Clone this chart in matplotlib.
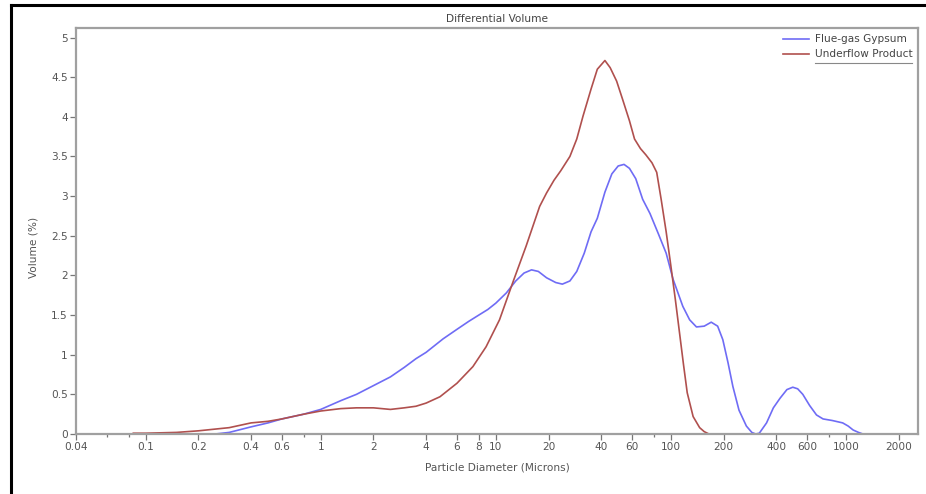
import matplotlib
matplotlib.use("Agg")
import matplotlib.pyplot as plt
from matplotlib.lines import Line2D
from matplotlib.ticker import FixedLocator, FixedFormatter, NullFormatter

plt.rcParams['font.family'] = ['DejaVu Sans']

# Particle size distribution (differential volume, %)
gypsum_d = [0.21, 0.25, 0.3, 0.4, 0.5, 0.6, 0.8, 1.0, 1.3, 1.6, 2.0, 2.5, 3.0,
            3.5, 4.0, 5.0, 6.0, 7.0, 8.0, 9.0, 10, 11.5, 13, 14.5, 16, 17.5,
            19.5, 22, 24, 26.5, 29, 32, 35, 38, 42, 46, 50, 54, 58, 63, 69,
            76, 85, 94, 103, 117, 128, 140, 155, 170, 185, 198, 212, 226,
            245, 270, 290, 305, 320, 352, 385, 420, 460, 497, 530, 567, 620,
            679, 740, 836, 958, 1030, 1100, 1180, 1250]
gypsum_v = [0.0, 0.0, 0.02, 0.09, 0.14, 0.19, 0.25, 0.31, 0.42, 0.5, 0.61,
            0.72, 0.84, 0.95, 1.03, 1.2, 1.32, 1.42, 1.5, 1.57, 1.65, 1.78,
            1.93, 2.03, 2.07, 2.05, 1.97, 1.91, 1.89, 1.93, 2.05, 2.28, 2.55,
            2.72, 3.05, 3.28, 3.38, 3.40, 3.35, 3.22, 2.96, 2.78, 2.52, 2.28,
            1.95, 1.61, 1.44, 1.35, 1.36, 1.41, 1.36, 1.19, 0.9, 0.6, 0.3,
            0.1, 0.02, 0.0, 0.01, 0.14, 0.33, 0.45, 0.56, 0.59, 0.57, 0.5,
            0.36, 0.24, 0.19, 0.17, 0.14, 0.1, 0.05, 0.02, 0.0]

underflow_d = [0.085, 0.1, 0.15, 0.2, 0.3, 0.4, 0.5, 0.6, 0.8, 1.0, 1.3, 1.6,
               2.0, 2.5, 3.0, 3.5, 4.0, 4.8, 6.0, 7.4, 8.8, 10.5, 12.5, 14.9,
               17.8, 19.5, 21.5, 23.5, 26.5, 29, 31.5, 35, 38, 42, 45, 49, 53,
               58, 62, 67, 72, 78, 83, 88, 94, 100, 106, 112, 118, 124, 134,
               146, 155, 165]
underflow_v = [0.01, 0.01, 0.02, 0.04, 0.08, 0.14, 0.16, 0.19, 0.25, 0.29,
               0.32, 0.33, 0.33, 0.31, 0.33, 0.35, 0.39, 0.47, 0.64, 0.85,
               1.1, 1.44, 1.91, 2.37, 2.87, 3.04, 3.2, 3.32, 3.5, 3.72, 4.01,
               4.35, 4.6, 4.71, 4.62, 4.45, 4.22, 3.95, 3.72, 3.6, 3.52, 3.42,
               3.3, 2.96, 2.55, 2.12, 1.7, 1.28, 0.88, 0.52, 0.22, 0.08, 0.03,
               0.0]

series_names = ["Flue-gas Gypsum", "Underflow Product"]
series_colors = ["#6f6cf5", "#b0504e"]

x_major = [0.04, 0.1, 0.2, 0.4, 0.6, 1, 2, 4, 6, 8, 10, 20, 40, 60, 100, 200,
           400, 600, 1000, 2000]
x_major_labels = ["0.04", "0.1", "0.2", "0.4", "0.6", "1", "2", "4", "6", "8",
                  "10", "20", "40", "60", "100", "200", "400", "600", "1000",
                  "2000"]
x_minor = [0.06, 0.08, 0.8, 80, 800]
y_ticks = [0, 0.5, 1, 1.5, 2, 2.5, 3, 3.5, 4, 4.5, 5]
y_labels = ["0", "0.5", "1", "1.5", "2", "2.5", "3", "3.5", "4", "4.5", "5"]

W, H = 926, 494
fig = plt.figure(figsize=(W / 100, H / 100), dpi=100)
ax = fig.add_axes([76 / W, (H - 434) / H, (918 - 76) / W, (434 - 28) / H])

ax.plot(gypsum_d, gypsum_v, color=series_colors[0], lw=1.2, label=series_names[0])
ax.plot(underflow_d, underflow_v, color=series_colors[1], lw=1.2, label=series_names[1])

ax.set_xscale('log')
ax.set_xlim(0.04, 2580)
ax.set_ylim(0, 5.12)

ax.xaxis.set_major_locator(FixedLocator(x_major))
ax.xaxis.set_major_formatter(FixedFormatter(x_major_labels))
ax.xaxis.set_minor_locator(FixedLocator(x_minor))
ax.xaxis.set_minor_formatter(NullFormatter())
ax.yaxis.set_major_locator(FixedLocator(y_ticks))
ax.yaxis.set_major_formatter(FixedFormatter(y_labels))

tick_col = "#555555"
fs = 7.6
ax.tick_params(axis='both', which='major', direction='out', length=4, width=0.9,
               color="#777777", labelsize=fs, labelcolor=tick_col, pad=2)
ax.tick_params(axis='x', which='minor', direction='out', length=2, width=0.9,
               color="#777777")

for s in ax.spines.values():
    s.set_color("#a0a0a0")
    s.set_linewidth(1.6)

ax.set_title("Differential Volume", fontsize=fs, color="#444444", pad=4)
ax.set_xlabel("Particle Diameter (Microns)", fontsize=fs, color=tick_col, labelpad=7)
ax.set_ylabel("Volume (%)", fontsize=fs, color=tick_col)
ax.yaxis.set_label_coords(-0.045, 0.46)

leg = ax.legend(loc='upper right', frameon=False, fontsize=fs, handlelength=2.5,
                handletextpad=0.55, labelspacing=0.45, borderpad=0,
                borderaxespad=0, bbox_to_anchor=(913 / W, (H - 34.5) / H),
                bbox_transform=fig.transFigure)
for t in leg.get_texts():
    t.set_color("#444444")

# underline beneath the second legend entry
fig.add_artist(Line2D([815 / W, 912 / W], [(H - 63) / H, (H - 63) / H],
                      color="#888888", lw=0.8))

# page frame (top and left edges)
fig.add_artist(Line2D([11 / W, 1.0], [(H - 5.5) / H, (H - 5.5) / H], color="black", lw=2.2))
fig.add_artist(Line2D([11 / W, 11 / W], [0, (H - 5.5) / H], color="black", lw=2.2))

fig.savefig("out.png", dpi=100)
